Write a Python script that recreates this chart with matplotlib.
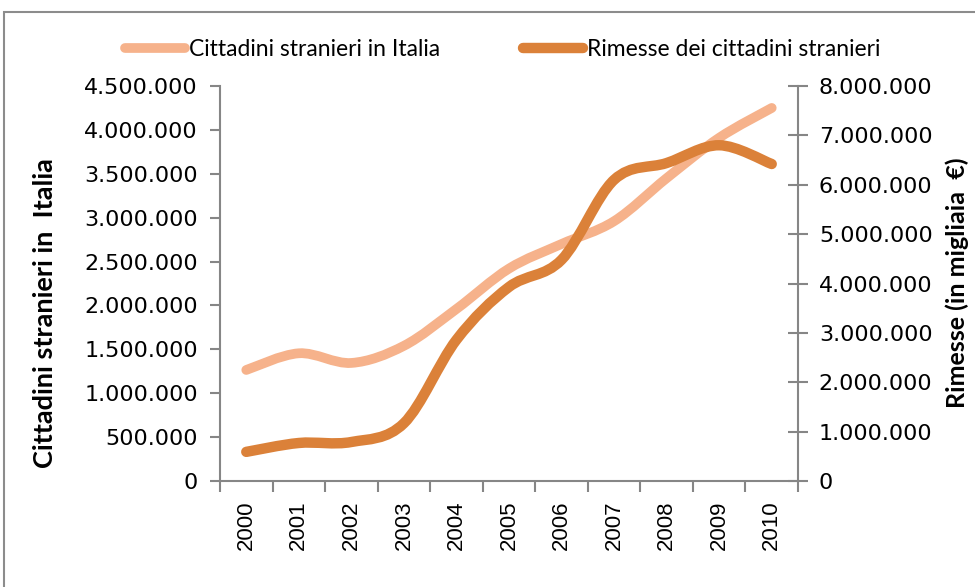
import numpy as np
import matplotlib
matplotlib.use("Agg")
import matplotlib.pyplot as plt
from matplotlib.path import Path
from matplotlib.patches import PathPatch, Rectangle
from matplotlib.lines import Line2D
from matplotlib.ticker import FuncFormatter, FixedLocator

years = ["2000", "2001", "2002", "2003", "2004", "2005",
         "2006", "2007", "2008", "2009", "2010"]
stranieri = [1265000, 1455000, 1345000, 1540000, 1960000, 2420000,
             2700000, 2960000, 3450000, 3910000, 4250000]
rimesse = [590000, 770000, 790000, 1170000, 2860000, 3930000,
           4480000, 6100000, 6440000, 6800000, 6420000]

c_light = "#F6B28B"
c_dark = "#DB8139"
c_axis = "#868686"


def smooth_path(xs, ys):
    # Excel-style smoothed line: cubic bezier through the points
    pts = np.column_stack([xs, ys]).astype(float)
    p = np.vstack([pts[0], pts, pts[-1]])
    verts = [tuple(pts[0])]
    codes = [Path.MOVETO]
    for i in range(1, len(p) - 2):
        p0, p1, p2, p3 = p[i - 1], p[i], p[i + 1], p[i + 2]
        c1 = p1 + (p2 - p0) / 6
        c2 = p2 - (p3 - p1) / 6
        verts += [tuple(c1), tuple(c2), tuple(p2)]
        codes += [Path.CURVE4] * 3
    return Path(verts, codes)


def fmt_dot(v, pos):
    return "{:,.0f}".format(v).replace(",", ".")


fig = plt.figure(figsize=(9.75, 5.87), dpi=100)
ax = fig.add_axes([220 / 975, 1 - 481 / 587, 578 / 975, 395 / 587])
ax2 = ax.twinx()

x = np.arange(len(years))
ax.add_patch(PathPatch(smooth_path(x, stranieri), fill=False, ec=c_light,
                       lw=7, capstyle="round", joinstyle="round"))
ax2.add_patch(PathPatch(smooth_path(x, rimesse), fill=False, ec=c_dark,
                        lw=7.5, capstyle="round", joinstyle="round"))

ax.set_xlim(-0.5, len(years) - 0.5)
ax.set_ylim(0, 4500000)
ax2.set_ylim(0, 8000000)
ax.set_yticks(np.arange(0, 4500001, 500000))
ax2.set_yticks(np.arange(0, 8000001, 1000000))
ax.yaxis.set_major_formatter(FuncFormatter(fmt_dot))
ax2.yaxis.set_major_formatter(FuncFormatter(fmt_dot))

ax.xaxis.set_major_locator(FixedLocator(np.arange(-0.5, len(years), 1.0)))
ax.xaxis.set_major_formatter(FuncFormatter(lambda v, p: ""))
ax.xaxis.set_minor_locator(FixedLocator(x))
ax.set_xticklabels(years, minor=True, rotation=90,
                   fontfamily="Liberation Sans", fontsize=16)
ax.tick_params(axis="x", which="major", length=8, width=1.5, color=c_axis)
ax.tick_params(axis="x", which="minor", length=0, pad=14)

for a in (ax, ax2):
    for s in a.spines.values():
        s.set_visible(False)
ax.spines["left"].set_visible(True)
ax.spines["bottom"].set_visible(True)
ax2.spines["right"].set_visible(True)
for s in (ax.spines["left"], ax.spines["bottom"], ax2.spines["right"]):
    s.set_color(c_axis)
    s.set_linewidth(1.5)

ax.tick_params(axis="y", length=7, width=1.5, color=c_axis,
               labelsize=16, pad=9)
ax2.tick_params(axis="y", direction="inout", length=14, width=1.5,
                color=c_axis, labelsize=16, pad=8)
for lab in ax.get_yticklabels() + ax2.get_yticklabels():
    lab.set_fontfamily("DejaVu Sans")

fig.text(45 / 975, 1 - 313 / 587, "Cittadini stranieri in  Italia",
         rotation=90, ha="center", va="center", fontsize=19.5,
         fontweight="bold", fontfamily="Lato")
fig.text(957 / 975, 1 - 283 / 587, "Rimesse (in migliaia  €)",
         rotation=90, ha="center", va="center", fontsize=18,
         fontweight="bold", fontfamily="Lato")

handles = [Line2D([], [], color=c_light, lw=7, solid_capstyle="round"),
           Line2D([], [], color=c_dark, lw=7.5, solid_capstyle="round")]
fig.legend(handles, ["Cittadini stranieri in Italia",
                     "Rimesse dei cittadini stranieri"],
           loc="center", bbox_to_anchor=(503 / 975, 1 - 50 / 587),
           ncol=2, frameon=False, handlelength=2.6, handletextpad=0.2,
           columnspacing=3.6, prop={"family": "Lato", "size": 16.5})

fig.add_artist(Rectangle((4 / 975, -0.05), 1.0, 1 - 12 / 587 + 0.05,
                         transform=fig.transFigure, fill=False,
                         ec="#8c8c8c", lw=1.5))

fig.savefig("out.png", dpi=100)
